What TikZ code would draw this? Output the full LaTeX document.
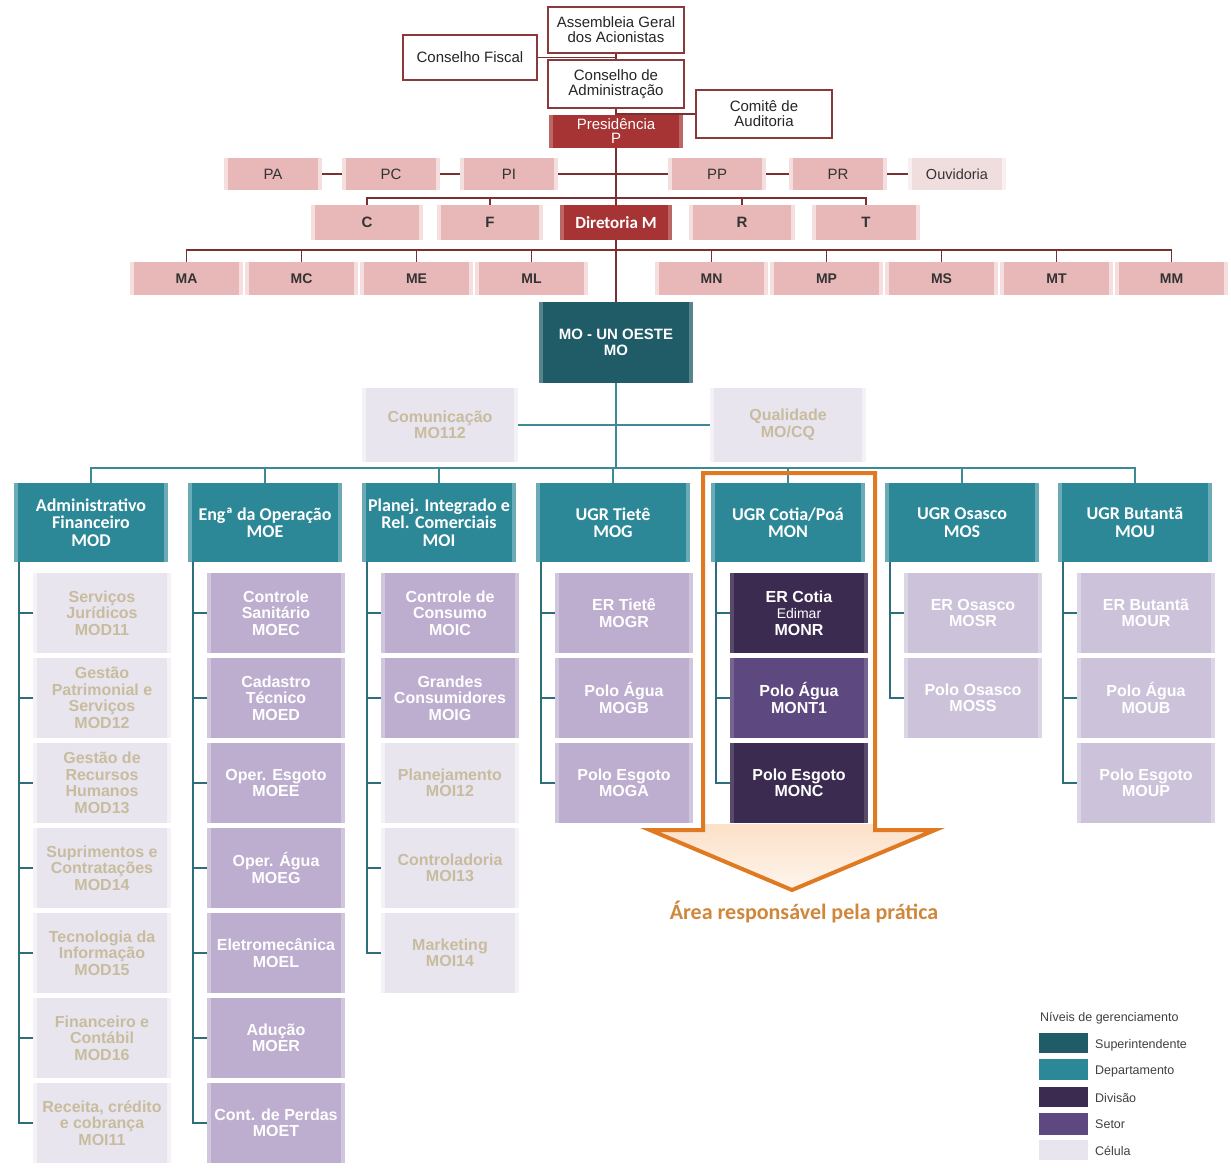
\documentclass[tikz,border=0pt]{standalone}
\usepackage{fontspec}
\setmainfont{Liberation Sans}
\newfontfamily\carl{Carlito}
\usetikzlibrary{backgrounds}
\definecolor{boxRed}{HTML}{8A3A3A}
\definecolor{lineRed}{HTML}{7A3030}
\definecolor{pinkF}{HTML}{E8B8B8}
\definecolor{ouvF}{HTML}{F0DEDE}
\definecolor{redF}{HTML}{A63434}
\definecolor{moF}{HTML}{1F5C68}
\definecolor{deptF}{HTML}{2C8797}
\definecolor{divF}{HTML}{3B2B50}
\definecolor{setF}{HTML}{5D4880}
\definecolor{setFade}{HTML}{BDAED0}
\definecolor{setFadeB}{HTML}{CCC3DB}
\definecolor{celF}{HTML}{E9E5EE}
\definecolor{celT}{HTML}{C8BC9F}
\definecolor{tealL}{HTML}{3C8A98}
\definecolor{subL}{HTML}{2D6E7A}
\definecolor{orangeL}{HTML}{E07A22}
\definecolor{peach}{HTML}{FCE2CB}
\definecolor{areaT}{HTML}{D0873C}
\newcommand\bx[7]{\node[#1,minimum width={(#5)-(#3)},minimum height={(#6)-(#4)}] (#2) at ({((#3)+(#5))/2},{((#4)+(#6))/2}) {#7};}
\newcommand\subbx[5]{\bx{#1}{#2}{#3+19}{573+85*#4}{#3+157}{653+85*#4}{#5}}
\tikzset{
 base/.style={inner sep=0pt, outer sep=0pt, align=center},
 bevel/.style={path picture={
   \fill[white,opacity=#1] (path picture bounding box.north west) rectangle ([xshift=4pt]path picture bounding box.south west);
   \fill[white,opacity=#1] (path picture bounding box.north east) rectangle ([xshift=-4pt]path picture bounding box.south east);}},
 bevel/.default=0.3,
 wbox/.style={base, draw=boxRed, line width=1.1pt, fill=white, font=\fontsize{15}{15}\selectfont, text=black!85},
 pbox/.style={base, fill=pinkF, bevel=0.55, font=\fontsize{15}{15}\selectfont, text=black!80},
 obox/.style={base, fill=ouvF, bevel=0.55, font=\fontsize{14.5}{15}\selectfont, text=black!80},
 mbox/.style={base, fill=pinkF, bevel=0.55, font=\fontsize{14}{14}\selectfont\bfseries, text=black!80},
 rbox/.style={base, fill=redF, bevel=0.25, text=white},
 mobox/.style={base, fill=moF, bevel=0.25, text=white, font=\fontsize{15}{16}\selectfont\bfseries},
 dept/.style={base, fill=deptF, bevel=0.3, text=white, font=\carl\bfseries\fontsize{18}{17.5}\selectfont},
 subbase/.style={base, font=\fontsize{16}{16.5}\selectfont\bfseries},
 cel/.style={subbase, fill=celF, bevel=0.5, text=celT},
 setfa/.style={subbase, fill=setFade, bevel=0.3, text=white},
 setfb/.style={subbase, fill=setFadeB, bevel=0.3, text=white},
 divb/.style={subbase, fill=divF, bevel=0.15, text=white},
 setb/.style={subbase, fill=setF, bevel=0.15, text=white},
 rl/.style={draw=lineRed, line width=1.2pt},
 tl/.style={draw=tealL, line width=1.3pt},
 sl/.style={draw=subL, line width=1.2pt},
 legt/.style={anchor=west, inner sep=0pt, font=\fontsize{12.5}{13}\selectfont, text=black!75},
}
\begin{document}
\begin{tikzpicture}[x=1pt,y=-1pt]
\useasboundingbox (0,0) rectangle (1231,1168);
% top boxes
\bx{wbox}{asm}{548}{7}{684}{53}{Assembleia Geral\\dos Acionistas}
\bx{wbox}{cf}{403}{35}{537}{80}{Conselho Fiscal}
\bx{wbox}{ca}{548}{60}{684}{108}{Conselho de\\Administração}
\bx{wbox}{cau}{696}{90}{832}{138}{Comitê de\\Auditoria}
\bx{rbox,font=\fontsize{15}{14}\selectfont}{pres}{549}{115}{683}{148}{Presidência\\P}
% P row
\bx{pbox}{pa}{224}{158}{322}{190}{PA}
\bx{pbox}{pc}{342}{158}{440}{190}{PC}
\bx{pbox}{pi}{460}{158}{558}{190}{PI}
\bx{pbox}{pp}{668}{158}{766}{190}{PP}
\bx{pbox}{pr}{789}{158}{887}{190}{PR}
\bx{obox}{ouv}{908}{158}{1006}{190}{Ouvidoria}
% director row
\bx{pbox,font=\fontsize{15}{15}\selectfont\bfseries}{c}{311}{205}{423}{240}{C}
\bx{pbox,font=\fontsize{15}{15}\selectfont\bfseries}{f}{437}{205}{543}{240}{F}
\bx{rbox,font=\carl\bfseries\fontsize{17}{17}\selectfont}{dm}{560}{205}{672}{240}{Diretoria M}
\bx{pbox,font=\fontsize{15}{15}\selectfont\bfseries}{r}{689}{205}{795}{240}{R}
\bx{pbox,font=\fontsize{15}{15}\selectfont\bfseries}{t}{812}{205}{920}{240}{T}
% M row
\bx{mbox}{ma}{130}{262}{243}{295}{MA}
\bx{mbox}{mc}{245}{262}{358}{295}{MC}
\bx{mbox}{me}{360}{262}{473}{295}{ME}
\bx{mbox}{ml}{475}{262}{588}{295}{ML}
\bx{mbox}{mn}{655}{262}{768}{295}{MN}
\bx{mbox}{mp}{770}{262}{883}{295}{MP}
\bx{mbox}{ms}{885}{262}{998}{295}{MS}
\bx{mbox}{mt}{1000}{262}{1113}{295}{MT}
\bx{mbox}{mm}{1115}{262}{1228}{295}{MM}
% MO
\bx{mobox}{mo}{539}{302}{693}{383}{MO  - UN OESTE\\MO}
\bx{cel}{com}{362}{388}{518}{462}{Comunicação\\MO112}
\bx{cel}{qual}{710}{388}{866}{462}{Qualidade\\MO/CQ}
% departments
\bx{dept}{d1}{14}{483}{168}{562}{Administrativo\\Financeiro\\MOD}
\bx{dept}{d2}{188}{483}{342}{562}{Engª da Operação\\MOE}
\bx{dept}{d3}{362}{483}{516}{562}{Planej. Integrado e\\Rel. Comerciais\\MOI}
\bx{dept}{d4}{536}{483}{690}{562}{UGR Tietê\\MOG}
\bx{dept}{d5}{711}{483}{865}{562}{UGR Cotia/Poá\\MON}
\bx{dept}{d6}{885}{483}{1039}{562}{UGR Osasco\\MOS}
\bx{dept}{d7}{1058}{483}{1212}{562}{UGR Butantã\\MOU}
% column 1
\subbx{cel}{s11}{14}{0}{Serviços\\Jurídicos\\MOD11}
\subbx{cel}{s12}{14}{1}{Gestão\\Patrimonial e\\Serviços\\MOD12}
\subbx{cel}{s13}{14}{2}{Gestão de\\Recursos\\Humanos\\MOD13}
\subbx{cel}{s14}{14}{3}{Suprimentos e\\Contratações\\MOD14}
\subbx{cel}{s15}{14}{4}{Tecnologia da\\Informação\\MOD15}
\subbx{cel}{s16}{14}{5}{Financeiro e\\Contábil\\MOD16}
\subbx{cel}{s17}{14}{6}{Receita, crédito\\e cobrança\\MOI11}
% column 2
\subbx{setfa}{s21}{188}{0}{Controle\\Sanitário\\MOEC}
\subbx{setfa}{s22}{188}{1}{Cadastro\\Técnico\\MOED}
\subbx{setfa}{s23}{188}{2}{Oper. Esgoto\\MOEE}
\subbx{setfa}{s24}{188}{3}{Oper. Água\\MOEG}
\subbx{setfa}{s25}{188}{4}{Eletromecânica\\MOEL}
\subbx{setfa}{s26}{188}{5}{Adução\\MOER}
\subbx{setfa}{s27}{188}{6}{Cont.  de Perdas\\MOET}
% column 3
\subbx{setfa}{s31}{362}{0}{Controle de\\Consumo\\MOIC}
\subbx{setfa}{s32}{362}{1}{Grandes\\Consumidores\\MOIG}
\subbx{cel}{s33}{362}{2}{Planejamento\\MOI12}
\subbx{cel}{s34}{362}{3}{Controladoria\\MOI13}
\subbx{cel}{s35}{362}{4}{Marketing\\MOI14}
% column 4
\subbx{setfa}{s41}{536}{0}{ER Tietê\\MOGR}
\subbx{setfa}{s42}{536}{1}{Polo Água\\MOGB}
\subbx{setfa}{s43}{536}{2}{Polo Esgoto\\MOGA}
% column 5
\subbx{divb}{s51}{711}{0}{ER Cotia\\{\mdseries\fontsize{14}{14}\selectfont Edimar}\\MONR}
\subbx{setb}{s52}{711}{1}{Polo Água\\MONT1}
\subbx{divb}{s53}{711}{2}{Polo Esgoto\\MONC}
% column 6
\subbx{setfb}{s61}{885}{0}{ER Osasco\\MOSR}
\subbx{setfb}{s62}{885}{1}{Polo Osasco\\MOSS}
% column 7
\subbx{setfb}{s71}{1058}{0}{ER Butantã\\MOUR}
\subbx{setfb}{s72}{1058}{1}{Polo Água\\MOUB}
\subbx{setfb}{s73}{1058}{2}{Polo Esgoto\\MOUP}
% connectors
\coordinate (hl) at (616,468);
\begin{pgfonlayer}{background}
\fill[white] (0,0) rectangle (1231,1168);
\shade[top color=peach, bottom color=peach!35] (650,830) -- (935,830) -- (792,890) -- cycle;
\fill[peach] (703,824) rectangle (875,832);
\draw[rl] (asm.south) -- (ca.north);
\draw[rl] (ca.south) -- (pres.north);
\draw[rl] (cf.east) -- (cf.east -| asm.south);
\draw[rl] (cau.west) -- (cau.west -| ca.south);
\draw[rl] (pres.south) -- (pres.south |- mo.north);
\draw[rl] (pa.east) -- (pc.west);
\draw[rl] (pc.east) -- (pi.west);
\draw[rl] (pi.east) -- (pp.west);
\draw[rl] (pp.east) -- (pr.west);
\draw[rl] (pr.east) -- (ouv.west);
\draw[rl] (c.north) -- ++(0,-7) -| (t.north);
\draw[rl] (f.north) -- ++(0,-7);
\draw[rl] (r.north) -- ++(0,-7);
\draw[rl] (ma.north) -- ++(0,-12) -| (mm.north);
\foreach \n in {mc,me,ml,mn,mp,ms,mt} \draw[rl] (\n.north) -- ++(0,-12);
\draw[tl] (mo.south) -- (mo.south |- hl);
\draw[tl] (com.east) -- (qual.west);
\draw[tl] (d1.north) -- ++(0,-15) -| (d7.north);
\foreach \n in {d2,d3,d4,d5,d6} \draw[tl] (\n.north) -- ++(0,-15);
\draw[sl] ([xshift=5pt]d1.south west) |- (s17.west);
\foreach \n in {s11,s12,s13,s14,s15,s16} \draw[sl] (\n.west) -- ++(-14,0);
\draw[sl] ([xshift=5pt]d2.south west) |- (s27.west);
\foreach \n in {s21,s22,s23,s24,s25,s26} \draw[sl] (\n.west) -- ++(-14,0);
\draw[sl] ([xshift=5pt]d3.south west) |- (s35.west);
\foreach \n in {s31,s32,s33,s34} \draw[sl] (\n.west) -- ++(-14,0);
\draw[sl] ([xshift=5pt]d4.south west) |- (s43.west);
\foreach \n in {s41,s42} \draw[sl] (\n.west) -- ++(-14,0);
\draw[sl] ([xshift=5pt]d5.south west) |- (s53.west);
\foreach \n in {s51,s52} \draw[sl] (\n.west) -- ++(-14,0);
\draw[sl] ([xshift=5pt]d6.south west) |- (s62.west);
\draw[sl] (s61.west) -- ++(-14,0);
\draw[sl] ([xshift=5pt]d7.south west) |- (s73.west);
\foreach \n in {s71,s72} \draw[sl] (\n.west) -- ++(-14,0);
\end{pgfonlayer}
% orange arrow
\draw[draw=orangeL, line width=4pt, line join=miter] (703,473) -- (875,473) -- (875,830) -- (935,830) -- (792,890) -- (650,830) -- (703,830) -- cycle;
\node[inner sep=0pt, text=areaT, font=\carl\bfseries\fontsize{22}{22}\selectfont] (area) at (804,912) {Área responsável  pela prática};
% legend
\node[inner sep=0pt, anchor=west, font=\fontsize{12.5}{13}\selectfont, text=black!75] (legtitle) at (1040,1018) {Níveis de  gerenciamento};
\bx{base,fill=moF}{lg1}{1039}{1033}{1088}{1053}{}
\bx{base,fill=deptF}{lg2}{1039}{1059}{1088}{1080}{}
\bx{base,fill=divF}{lg3}{1039}{1087}{1088}{1107}{}
\bx{base,fill=setF}{lg4}{1039}{1113}{1088}{1135}{}
\bx{base,fill=celF}{lg5}{1039}{1140}{1088}{1160}{}
\node[legt] (lt1) at (1095,1045) {Superintendente};
\node[legt] (lt2) at (1095,1071) {Departamento};
\node[legt] (lt3) at (1095,1098) {Divisão};
\node[legt] (lt4) at (1095,1124) {Setor};
\node[legt] (lt5) at (1095,1151) {Célula};
\end{tikzpicture}
\end{document}
